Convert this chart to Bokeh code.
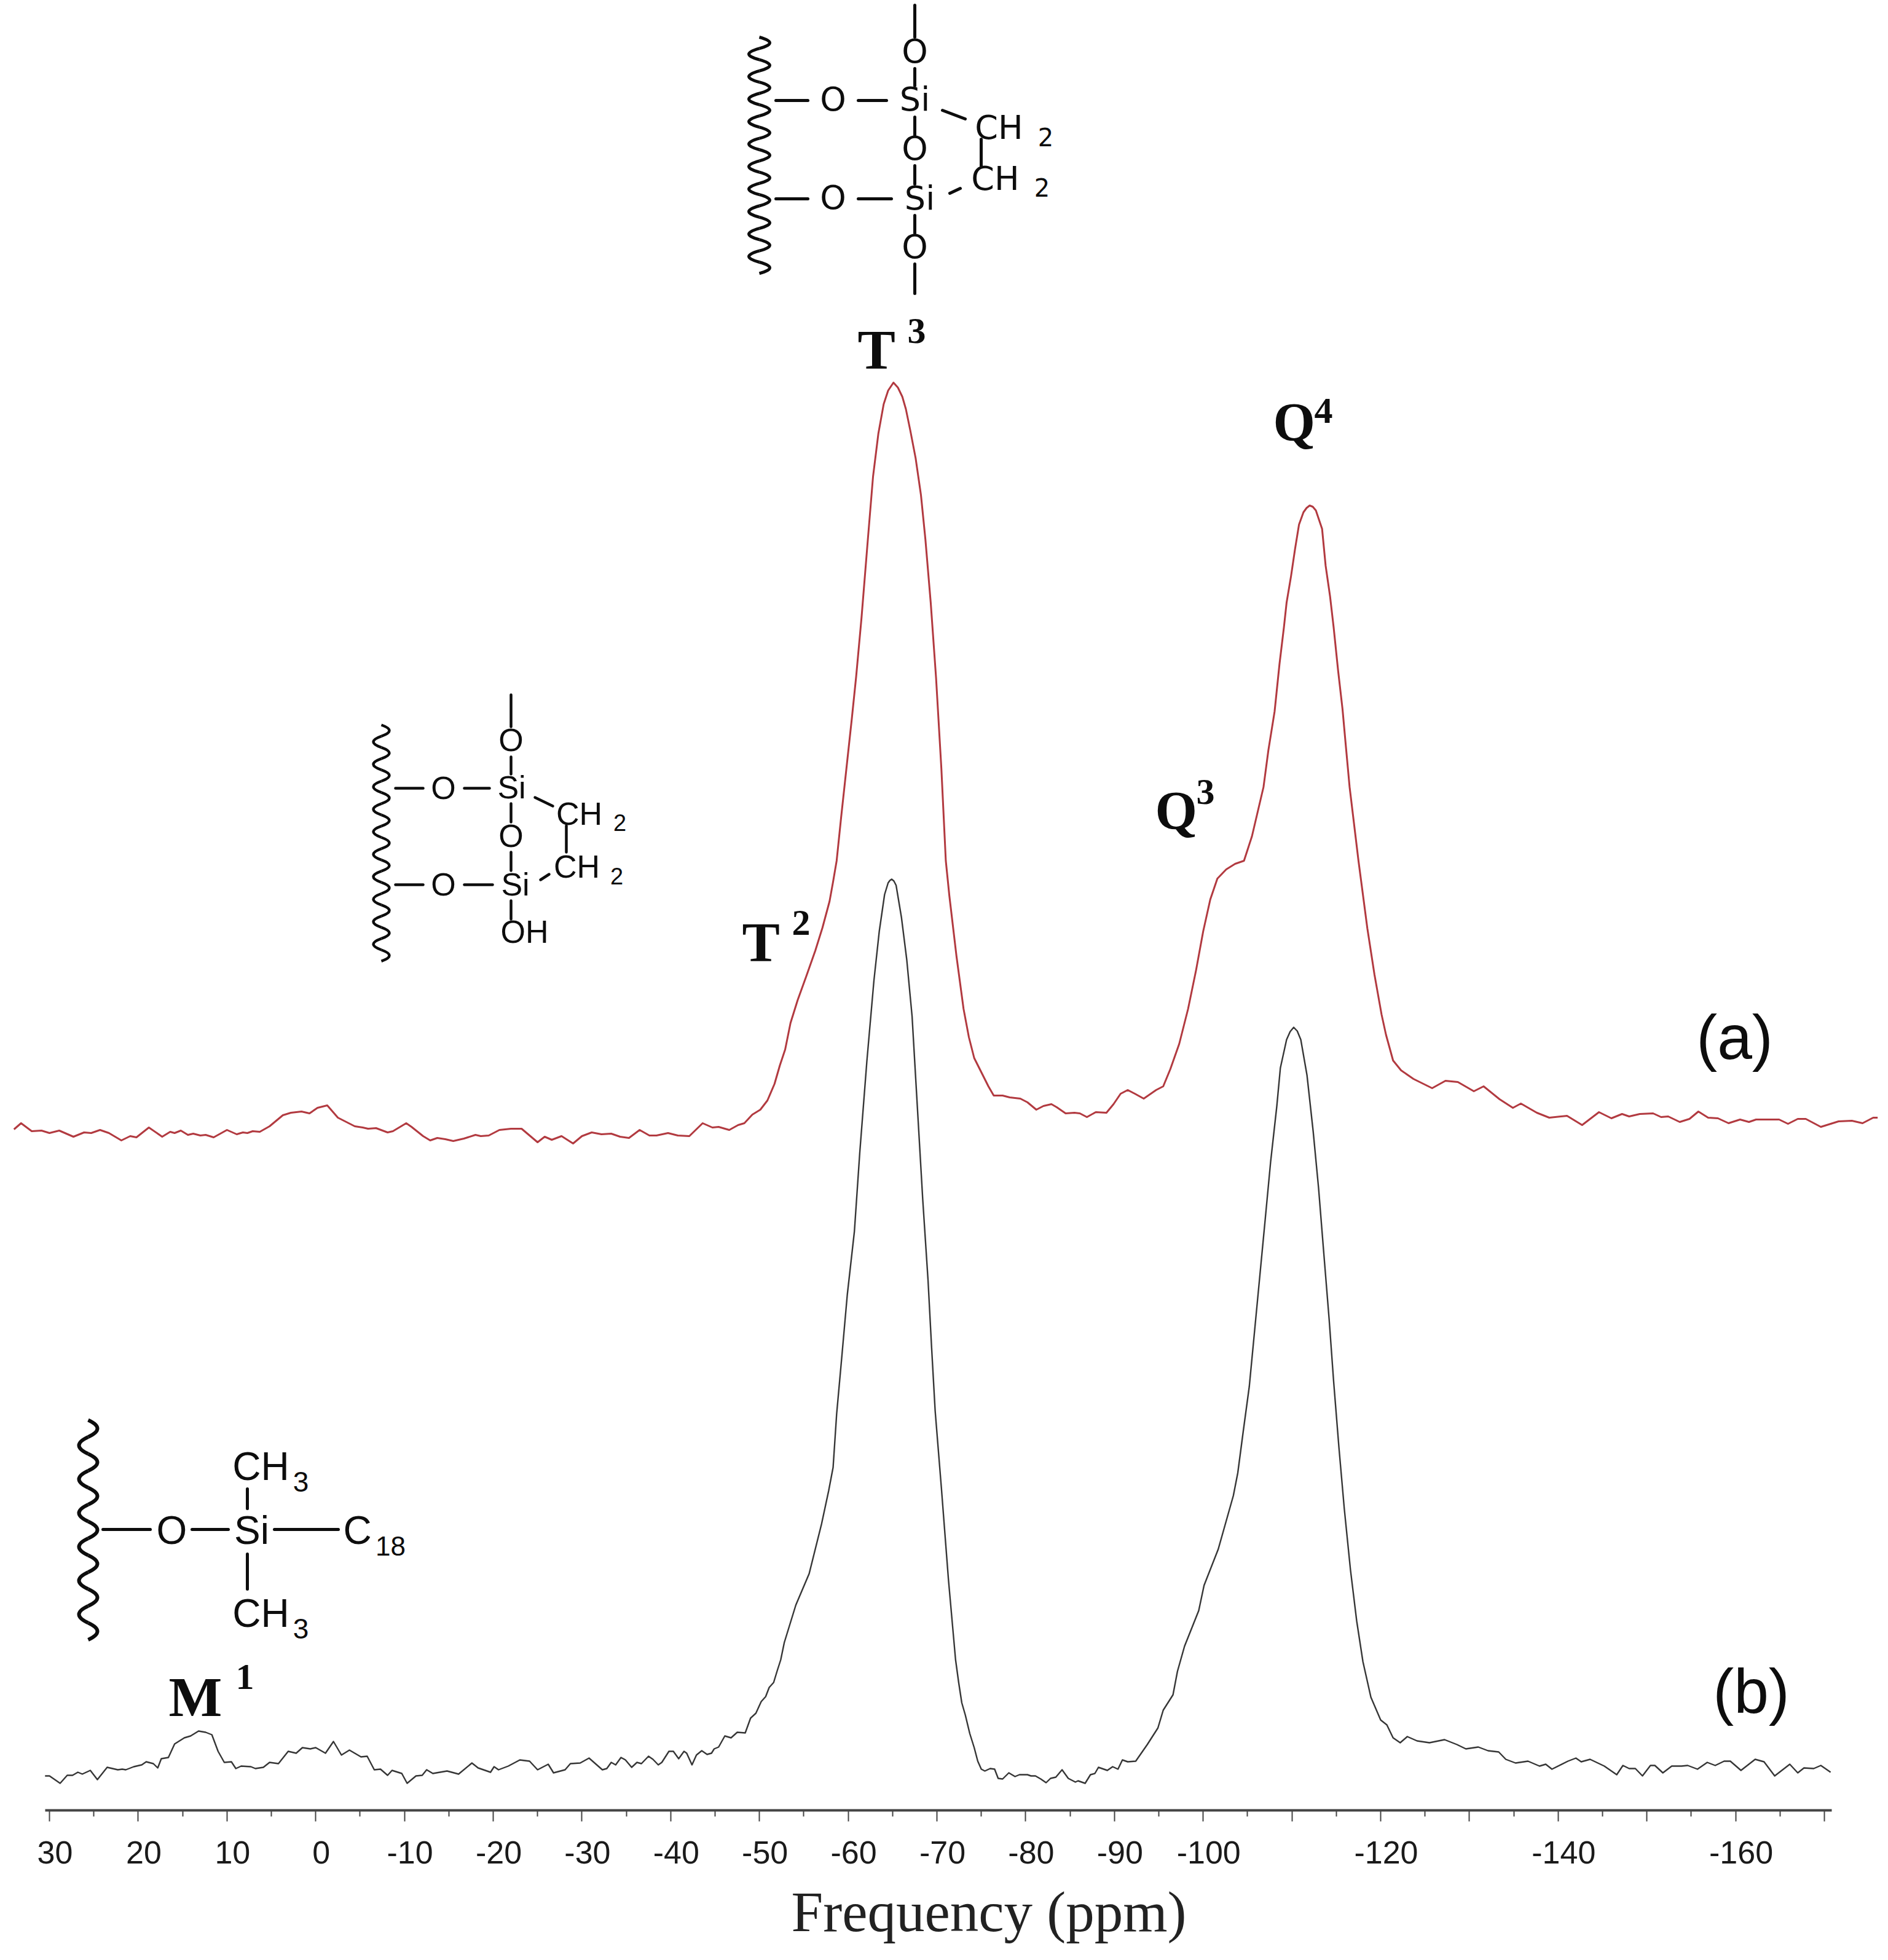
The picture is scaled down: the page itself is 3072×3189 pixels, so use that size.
from bokeh.plotting import figure
from bokeh.models import Range1d, LinearAxis, FixedTicker, Title
from bokeh.core.properties import value
from bokeh.embed import file_html
from bokeh.resources import INLINE

# ---------------- chart data ----------------
MAJOR_TICKS = [30, 20, 10, 0, -10, -20, -30, -40, -50, -60, -70, -80, -90, -100,
               -110, -120, -130, -140, -150, -160, -170]
MINOR_TICKS = [25, 15, 5, -5, -15, -25, -35, -45, -55, -65, -75, -85, -95, -105,
               -115, -125, -135, -145, -155, -165]
LABELLED_TICKS = [30, 20, 10, 0, -10, -20, -30, -40, -50, -60, -70, -80, -90, -100,
                  -120, -140, -160]
AXIS_TITLE = "Frequency (ppm)"

RED_PPM = [34.0, 33.2, 32.0, 30.9, 30.0, 28.9, 27.3, 26.1, 25.3, 24.3, 23.3, 21.9, 20.9, 20.2, 18.8, 17.3, 16.4, 15.9, 15.2,
           14.4, 13.8, 13.0, 12.4, 11.5, 10.0, 8.9, 8.2, 7.7, 7.1, 6.3, 5.2, 3.7, 2.8, 1.6, 0.7, -0.2, -1.3, -2.5, -4.4,
           -5.3, -5.9, -6.8, -8.1, -8.7, -10.2, -10.8, -12.1, -12.9, -13.7, -14.6, -15.5, -16.7, -18.0, -18.6, -19.5,
           -20.7, -22.0, -23.2, -25.0, -25.8, -26.6, -27.7, -29.0, -30.0, -31.1, -32.2, -33.3, -34.3, -35.3, -36.5, -37.6,
           -38.4, -39.7, -40.8, -42.1, -43.6, -44.7, -45.4, -46.6, -47.6, -48.3, -49.2, -50.1, -50.9, -51.7, -52.3, -52.9,
           -53.5, -54.3, -55.3, -56.3, -57.1, -57.9, -58.3,
           -58.7, -59.2, -59.8, -60.4, -60.9, -61.5, -62.2, -62.8, -63.4, -64.0, -64.5, -65.1, -65.6, -66.1, -66.5, -67.0,
           -67.6, -68.2, -68.7, -69.3, -69.9, -70.5, -71.0,
           -71.4, -72.2, -73.0, -73.6, -74.2, -75.0, -75.8, -76.4, -77.4, -78.2, -79.4,
           -80.2, -81.2, -82.0, -82.9, -83.5, -84.5, -85.5, -86.1, -86.9, -87.9, -89.1, -89.9, -90.7, -91.5, -92.3, -93.3,
           -94.7, -95.5, -96.3, -97.3, -98.3, -99.2, -100.0, -100.8, -101.6, -102.6, -103.6, -104.6, -105.5, -106.8, -107.35,
           -108.05, -108.6, -109.1, -109.4, -109.9, -110.35, -110.8, -111.3, -111.65, -112.0, -112.35, -112.7, -113.4, -113.8, -114.3, -114.7,
           -115.2, -115.7, -116.1, -116.5, -117.5, -118.5, -119.3, -120.1, -120.6, -121.4, -122.3, -123.7, -125.8, -127.3,
           -128.7, -130.5, -131.6, -133.4, -134.9, -135.8, -137.6, -139.0, -141.0, -142.7, -144.6, -146.0, -147.2, -148.0,
           -149.2, -150.7, -151.6, -152.4, -153.7, -154.8, -155.8, -156.9, -158.0, -159.2, -160.5, -161.5, -162.3, -163.4,
           -164.9, -165.9, -167.0, -167.9, -169.6, -171.6, -173.1, -174.3, -175.5, -176.0]
RED_INT = [1113, 1123, 1110, 1111, 1107, 1111, 1101, 1108, 1107, 1112, 1107, 1095, 1102, 1100, 1116, 1101, 1109, 1107, 1111,
           1104, 1106, 1103, 1104, 1100, 1112, 1105, 1108, 1107, 1110, 1109, 1118, 1136, 1140, 1142, 1139, 1148, 1152, 1132, 1118,
           1116, 1114, 1115, 1108, 1110, 1123, 1117, 1102, 1095, 1099, 1097, 1094, 1098, 1104, 1102, 1103,
           1112, 1114, 1114, 1092, 1101, 1096, 1102, 1090, 1102, 1108, 1105, 1106, 1101, 1099, 1112, 1103,
           1103, 1107, 1103, 1102, 1123, 1116, 1117, 1112, 1120, 1123, 1137, 1145, 1160, 1187, 1217, 1243,
           1286, 1323, 1363, 1404, 1441, 1484, 1516,
           1550, 1620, 1700, 1780, 1850, 1945, 2070, 2175, 2245, 2293, 2315, 2328, 2320, 2305, 2285, 2250,
           2205, 2145, 2073, 1970, 1848, 1700, 1550,
           1493, 1395, 1309, 1263, 1229, 1206, 1183, 1168, 1168, 1165, 1163,
           1157, 1145, 1151, 1154, 1149, 1139, 1140, 1139, 1133, 1141, 1140, 1154, 1171, 1177, 1171, 1163,
           1177, 1183, 1211, 1252, 1309, 1372, 1435, 1487, 1521, 1536, 1545, 1550, 1590, 1670, 1730,
           1793, 1870, 1930, 1970, 2013, 2057, 2097, 2117, 2124, 2128, 2126, 2120, 2090, 2030, 1980, 1930,
           1860, 1797, 1733, 1670, 1550, 1440, 1365, 1300, 1267, 1225, 1209, 1195, 1180, 1192,
           1190, 1175, 1183, 1162, 1148, 1155, 1140, 1132, 1135, 1120, 1141, 1131, 1138, 1134,
           1138, 1139, 1133, 1134, 1125, 1130, 1142, 1132, 1131, 1123, 1129, 1125, 1129, 1129,
           1129, 1122, 1130, 1130, 1117, 1126, 1127, 1123, 1132, 1132]

BLACK_PPM = [30.5, 30.0, 28.8, 28.0, 27.4, 26.8, 26.3, 25.4, 24.6, 23.5, 22.3, 21.8, 21.4, 20.5, 19.6, 19.1, 18.3, 17.8, 17.4,
             16.6, 15.9, 14.8, 14.1, 13.2, 12.4, 11.7, 11.0, 10.3, 9.5, 9.0, 8.4, 7.3, 6.8, 5.9, 5.2, 4.2, 3.1, 2.2, 1.5, 0.6,
             0.0, -1.1, -2.0, -2.9, -3.8, -5.1, -5.8, -6.6, -7.3, -8.1, -8.6, -9.7, -10.3, -11.3, -12.0, -12.5, -13.2, -14.8,
             -16.1, -17.6, -18.3, -19.7, -20.1, -20.6, -21.7, -23.0, -24.1, -25.0, -26.2, -26.8, -28.1, -28.7, -29.8, -30.8,
             -32.3, -32.8, -33.3, -33.8, -34.4, -34.9, -35.6, -36.2, -36.7, -37.5, -38.0, -38.6, -39.0, -39.8, -40.3, -40.9,
             -41.5, -41.8, -42.4, -42.9, -43.5, -44.1, -44.6, -44.9, -45.4, -46.1, -46.8, -47.5, -48.4, -49.0, -49.6, -50.2,
             -50.7, -51.1, -51.6, -52.0, -52.4, -52.8, -54.1, -55.6, -57.0, -57.8, -58.3, -58.7, -59.3, -59.9, -60.7, -61.3, -62.1,
             -62.9, -63.5, -64.1, -64.5, -64.7, -64.9, -65.15, -65.4, -66.0, -66.6, -67.2, -67.8, -68.4, -69.0, -69.4, -69.8, -70.5, -71.3,
             -72.1, -72.45, -72.8, -73.2, -73.7, -74.2, -74.6, -75.0, -75.4, -76.0, -76.5, -76.9, -77.4, -78.1, -78.8, -79.3,
             -80.2, -80.6, -81.1, -81.7, -82.3, -82.8, -83.4, -84.1, -84.8, -85.6, -85.9, -86.7, -87.3, -87.8, -88.2, -89.2,
             -89.8, -90.4, -90.9, -91.5, -92.4, -93.7, -94.9, -95.5, -96.6, -97.1, -97.9, -99.5, -100.1, -101.7, -103.4, -103.9,
             -104.5, -105.2, -105.8, -106.4, -107.0, -107.6, -108.3, -108.7, -109.4, -109.8, -110.2, -110.6, -111.0, -111.7, -112.4, -113.0,
             -113.6, -114.2, -114.7, -115.3, -115.9, -116.6, -117.3, -118.0, -118.9, -120.0, -120.7, -121.4, -122.2, -123.0,
             -124.1, -125.5, -127.2, -128.6, -129.6, -131.0, -132.1, -133.3, -134.1, -135.2, -136.6, -137.9, -138.6, -139.3,
             -141.1, -142.0, -142.6, -143.6, -145.2, -146.6, -147.3, -148.0, -148.7, -149.5, -150.4, -150.9, -151.8, -152.8,
             -153.9, -154.6, -155.7, -156.8, -157.7, -158.7, -159.4, -160.6, -162.2, -163.2, -164.4, -166.1, -167.0, -167.7,
             -168.8, -169.6, -170.7]
BLACK_INT = [61, 61, 49, 62, 62, 67, 64, 70, 55, 75, 71, 72, 71, 76, 79, 84, 81, 74, 89,
             91, 113, 123, 126, 134, 132, 128, 101, 83, 84, 73, 77, 76, 73, 75, 83, 81, 101, 98, 107, 105,
             107, 98, 117, 95, 103, 92, 93, 71, 72, 62, 70, 65, 49, 61, 62, 71, 65, 69,
             64, 82, 74, 67, 76, 71, 77, 87, 85, 71, 80, 66, 71, 81, 82, 90,
             71, 73, 83, 79, 91, 87, 75, 83, 81, 93, 88, 79, 83, 101, 101, 89,
             101, 98, 79, 95, 102, 96, 98, 105, 108, 126, 123, 132, 131, 155, 163, 182,
             190, 205, 213, 232, 250, 278, 339, 390, 471, 525, 563, 650, 746, 844, 947, 1074, 1223,
             1355, 1435, 1495, 1514, 1518, 1520, 1517, 1510, 1458, 1389, 1297, 1148, 999, 867, 758, 655, 530, 380,
             250, 213, 180, 160, 130, 107, 85, 72, 69, 73, 72, 57, 56, 66, 60, 63,
             63, 61, 61, 56, 50, 57, 59, 71, 57, 51, 53, 49, 63, 65, 75, 70,
             76, 72, 87, 84, 85, 112, 139, 168, 193, 231, 272, 330, 371, 430, 517, 554,
             620, 695, 786, 877, 968, 1060, 1151, 1213, 1259, 1272, 1279, 1273, 1259, 1201, 1109, 1018,
             910, 803, 703, 595, 496, 396, 313, 247, 189, 152, 144, 123, 115, 125,
             118, 115, 120, 112, 105, 108, 102, 100, 88, 82, 85, 77, 80, 72,
             85, 90, 84, 88, 77, 63, 78, 73, 73, 61, 78, 78, 66, 77,
             77, 78, 72, 83, 78, 85, 85, 70, 88, 84, 61, 80, 66, 74,
             73, 78, 67]

# ---------------- page geometry ----------------
PX_PER_PPM = 14.44
def X(px):            # picture pixel -> ppm
    return 30 - (px - 80) / PX_PER_PPM
def Y(py):            # picture pixel -> intensity
    return 2950 - py

p = figure(frame_width=3056, frame_height=2945, x_range=Range1d(X(0), X(3056)), y_range=Range1d(Y(2945), Y(0)),
           x_axis_location=None, y_axis_location=None, toolbar_location=None, output_backend="svg",
           min_border=0, outline_line_color=None, background_fill_color="white", border_fill_color="white")
p.grid.visible = False

# rule + tick marks
axis_ink = "#444444"
tick_axis = LinearAxis(ticker=FixedTicker(ticks=MAJOR_TICKS, minor_ticks=MINOR_TICKS),
                       major_label_overrides={t: "" for t in MAJOR_TICKS},
                       major_label_text_font_size="1px", major_label_standoff=0,
                       axis_line_color=axis_ink, axis_line_width=4,
                       major_tick_line_color=axis_ink, major_tick_line_width=2, major_tick_out=18, major_tick_in=0,
                       minor_tick_line_color=axis_ink, minor_tick_line_width=2, minor_tick_out=10, minor_tick_in=0,
                       bounds=(X(73), X(2980)))
p.add_layout(tick_axis, "below")

# tick numbers sit a little right of their ticks in the original
p.extra_x_ranges["labels"] = Range1d(X(0) + 9 / PX_PER_PPM, X(3056) + 9 / PX_PER_PPM)
label_axis = LinearAxis(x_range_name="labels", ticker=FixedTicker(ticks=LABELLED_TICKS),
                        major_label_overrides={t: str(t) for t in LABELLED_TICKS},
                        axis_line_color=None, major_tick_line_color=None, minor_tick_line_color=None,
                        major_tick_out=0, major_tick_in=0, minor_tick_out=0, minor_tick_in=0,
                        major_label_text_font="Liberation Sans", major_label_text_font_size="52px",
                        major_label_text_color="#1a1a1a", major_label_standoff=32)
p.add_layout(label_axis, "below")

p.add_layout(Title(text=AXIS_TITLE, align="left", offset=1287, standoff=44, text_font="Liberation Serif",
                   text_font_style="normal", text_font_size="93px", text_color="#222222"), "below")

# the two spectra
p.line(RED_PPM, RED_INT, line_color="#b23a40", line_width=3, line_join="round")
p.line(BLACK_PPM, BLACK_INT, line_color="#363636", line_width=2.4, line_join="round")

# ---------------- annotation helpers (picture pixels) ----------------
INK = "#0d0d0d"
def T(s, px, py, size, font="Liberation Sans", style="normal", align="center", color=INK):
    # py is the baseline seen in the picture; the text glyph draws about 0.36 em below its anchor
    p.text([X(px)], [Y(py - 0.36 * size)], text=[s], text_font=value(font), text_font_size=f"{size}px",
           text_font_style=style, text_align=align, text_baseline="alphabetic", text_color=color)
def B(segs, w):
    p.segment([X(s[0]) for s in segs], [Y(s[1]) for s in segs], [X(s[2]) for s in segs], [Y(s[3]) for s in segs],
              line_color=INK, line_width=w, line_cap="round")
def WAVE(cx, top, bottom, half, amp, w):
    n = int(round((bottom - top) / half))
    tops = [top + i * half for i in range(n)]
    sides = [(1 if i % 2 == 0 else -1) for i in range(n)]
    p.quadratic([X(cx)] * n, [Y(t) for t in tops], [X(cx)] * n, [Y(t + half) for t in tops],
                [X(cx + 2 * amp * s) for s in sides], [Y(t + half / 2) for t in tops],
                line_color=INK, line_width=w)

SERIF = "Liberation Serif"
# peak labels
T("T", 1395, 602, 92, SERIF, "bold", "left");  T("3", 1476, 560, 60, SERIF, "bold", "left")
T("T", 1207, 1566, 92, SERIF, "bold", "left"); T("2", 1288, 1523, 60, SERIF, "bold", "left")
T("Q", 2071, 718, 88, SERIF, "bold", "left");  T("4", 2138, 690, 60, SERIF, "bold", "left")
T("Q", 1879, 1350, 88, SERIF, "bold", "left"); T("3", 1946, 1310, 60, SERIF, "bold", "left")
T("M", 274, 2794, 92, SERIF, "bold", "left");  T("1", 383, 2750, 60, SERIF, "bold", "left")
T("(a)", 2822, 1724, 102)
T("(b)", 2849, 2788, 102)

# top structure
DV = "DejaVu Sans"
WAVE(1235, 60, 450, 18.3, 17, 5)
B([(1488, 8, 1488, 60), (1488, 111, 1488, 139), (1262, 163, 1314, 163), (1396, 163, 1442, 163), (1533, 179, 1570, 193),
   (1596, 226, 1596, 269), (1545, 314, 1562, 306), (1488, 190, 1488, 220), (1488, 269, 1488, 299), (1262, 323, 1314, 323),
   (1396, 323, 1450, 323), (1488, 350, 1488, 379), (1488, 429, 1488, 477)], 5)
T("O", 1488, 102, 54, DV); T("O", 1355, 180, 54, DV); T("Si", 1488, 180, 54, DV)
T("CH", 1625, 226, 54, DV); T("2", 1701, 237, 40, DV)
T("CH", 1619, 309, 54, DV); T("2", 1695, 319, 40, DV)
T("O", 1488, 260, 54, DV); T("O", 1355, 340, 54, DV); T("Si", 1496, 341, 54, DV); T("O", 1488, 420, 54, DV)

# middle structure
WAVE(620, 1179, 1564, 18.3, 13, 4.5)
B([(831, 1130, 831, 1182), (831, 1231, 831, 1259), (643, 1282, 688, 1282), (755, 1282, 796, 1282), (870, 1297, 899, 1311),
   (921, 1343, 921, 1386), (879, 1431, 893, 1422), (831, 1307, 831, 1337), (831, 1386, 831, 1416), (643, 1439, 688, 1439),
   (755, 1439, 801, 1439), (831, 1465, 831, 1495)], 4.5)
T("O", 831, 1222, 52); T("O", 721, 1300, 52); T("Si", 832, 1299, 52)
T("CH", 942, 1342, 52); T("2", 1008, 1352, 38)
T("CH", 938, 1428, 52); T("2", 1003, 1439, 38)
T("O", 831, 1378, 52); T("O", 721, 1457, 52); T("Si", 838, 1457, 52); T("OH", 853, 1534, 52)

# bottom structure
WAVE(143, 2310, 2672, 27.5, 15, 6)
B([(167, 2488, 244, 2488), (312, 2488, 371, 2488), (446, 2488, 550, 2488), (402, 2422, 402, 2454), (402, 2528, 402, 2585)], 5)
T("O", 279, 2513, 64); T("Si", 409, 2513, 64); T("C", 581, 2513, 64); T("18", 635, 2531, 44)
T("CH", 424, 2409, 64); T("3", 489, 2427, 46)
T("CH", 424, 2648, 64); T("3", 489, 2666, 46)

open("out.html", "w").write(file_html(p, INLINE))
